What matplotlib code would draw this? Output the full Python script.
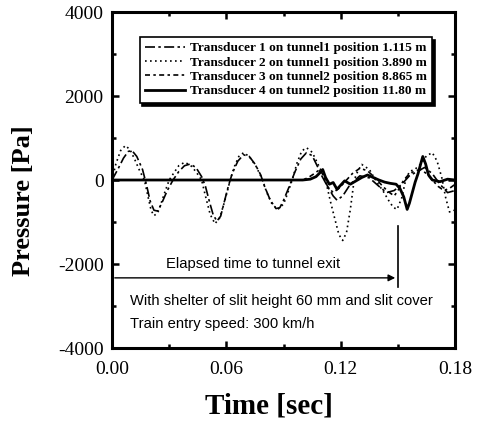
import matplotlib.pyplot as plt
from matplotlib.ticker import MultipleLocator

# transducer 1 (tunnel1, 1.115 m)
t1 = [0, 0.003, 0.006, 0.0085, 0.0105, 0.013, 0.016, 0.018, 0.020, 0.022, 0.024, 0.026,
      0.029, 0.032, 0.035, 0.038, 0.041, 0.044, 0.047, 0.049, 0.051, 0.053, 0.055, 0.057,
      0.059, 0.061, 0.063, 0.066, 0.069, 0.072, 0.075, 0.078, 0.080, 0.083, 0.086, 0.088,
      0.090, 0.093, 0.096, 0.099, 0.102, 0.105, 0.108, 0.110, 0.113, 0.116, 0.118, 0.121,
      0.125, 0.130, 0.135, 0.140, 0.144, 0.148, 0.152, 0.156, 0.160, 0.164, 0.168, 0.172,
      0.176, 0.180]
p1 = [0, 250, 520, 680, 700, 560, 250, -100, -500, -720, -740, -560,
      -250, 0, 200, 340, 380, 300, 80, -150, -500, -820, -980, -860,
      -500, -150, 150, 450, 600, 560, 380, 120, -150, -480, -680, -660,
      -480, -150, 200, 500, 650, 580, 300, 100, -150, -380, -480, -380,
      -100, 100, 50, -150, -300, -250, -100, 100, 200, 300, 150, -100,
      -300, -250]

# transducer 2 (tunnel1, 3.890 m)
t2 = [0, 0.002, 0.0045, 0.007, 0.0095, 0.012, 0.0145, 0.017, 0.019, 0.0205, 0.022, 0.024,
      0.026, 0.028, 0.030, 0.032, 0.035, 0.038, 0.041, 0.044, 0.047, 0.049, 0.0515, 0.054,
      0.0565, 0.059, 0.062, 0.064, 0.0665, 0.069, 0.072, 0.0755, 0.079, 0.081, 0.084, 0.087,
      0.090, 0.092, 0.0945, 0.097, 0.0995, 0.102, 0.105, 0.108, 0.112, 0.1145, 0.117, 0.119,
      0.121, 0.123, 0.125, 0.127, 0.129, 0.131, 0.135, 0.139, 0.142, 0.145, 0.1475, 0.1495,
      0.152, 0.154, 0.156, 0.159, 0.162, 0.165, 0.168, 0.1705, 0.173, 0.175, 0.177, 0.179,
      0.180]
p2 = [0, 380, 700, 820, 720, 480, 220, 0, -420, -720, -850, -780,
      -520, -250, 0, 140, 340, 420, 360, 200, 0, -380, -820, -1040,
      -900, -520, 0, 300, 560, 650, 560, 330, 0, -280, -580, -700,
      -570, -330, 0, 400, 690, 770, 660, 380, 0, -500, -950, -1300,
      -1440, -1250, -700, 0, 220, 370, 250, -60, -250, -480, -650, -700,
      -420, 0, 200, 260, 380, 580, 650, 450, 50, -420, -760, -740,
      -700]

# transducer 3 (tunnel2, 8.865 m)
t3 = [0, 0.100, 0.103, 0.106, 0.109, 0.111, 0.113, 0.116, 0.119, 0.122, 0.126, 0.130,
      0.134, 0.138, 0.142, 0.145, 0.148, 0.150, 0.153, 0.156, 0.159, 0.162, 0.165, 0.168,
      0.171, 0.174, 0.177, 0.180]
p3 = [0, 0, 60, 150, 250, 100, -150, -300, -200, -50, 150, 280,
      220, 50, -150, -280, -380, -250, 0, 150, 220, 250, 150, 0,
      -150, -250, -200, -100]

# transducer 4 (tunnel2, 11.80 m)
t4 = [0, 0.100, 0.104, 0.107, 0.109, 0.1105, 0.112, 0.114, 0.116, 0.118, 0.120, 0.122,
      0.125, 0.128, 0.131, 0.134, 0.137, 0.140, 0.143, 0.146, 0.149, 0.151, 0.153, 0.1548,
      0.156, 0.1575, 0.159, 0.1605, 0.162, 0.163, 0.1645, 0.166, 0.168, 0.172, 0.176, 0.180]
p4 = [0, 0, 20, 80, 170, 250, 60, -100, -60, -220, -120, -20,
      -100, -20, 60, 120, 60, 0, -50, -80, -100, -200, -400, -700,
      -550, -300, -50, 150, 400, 560, 380, 120, 0, -40, 20, 0]

labels = ["Transducer 1 on tunnel1 position 1.115 m",
          "Transducer 2 on tunnel1 position 3.890 m",
          "Transducer 3 on tunnel2 position 8.865 m",
          "Transducer 4 on tunnel2 position 11.80 m"]

t_exit = 0.150
arrow_p = -2330

plt.rcParams['font.family'] = 'Liberation Serif'
plt.rcParams['axes.unicode_minus'] = False

fig = plt.figure(figsize=(4.82, 4.29), dpi=100)
ax = fig.add_axes([0.2324, 0.1888, 0.712, 0.7832])

ax.plot(t1, p1, color='black', lw=1.2, ls=(0, (6, 2, 1.5, 2)), label=labels[0])
ax.plot(t2, p2, color='black', lw=1.2, ls=(0, (1, 2)), label=labels[1])
ax.plot(t3, p3, color='black', lw=1.2, ls=(0, (3, 2, 1.5, 2)), label=labels[2])
ax.plot(t4, p4, color='black', lw=2.0, ls='-', label=labels[3])

ax.set_xlim(0, 0.18)
ax.set_ylim(-4000, 4000)
ax.xaxis.set_major_locator(MultipleLocator(0.06))
ax.xaxis.set_minor_locator(MultipleLocator(0.03))
ax.yaxis.set_major_locator(MultipleLocator(2000))
ax.yaxis.set_minor_locator(MultipleLocator(1000))
ax.xaxis.set_major_formatter(plt.FuncFormatter(lambda v, pos: f"{v:.2f}"))
ax.tick_params(which='both', direction='in', top=True, right=True, width=1.8, labelsize=14)
ax.tick_params(which='major', length=5)
ax.tick_params(which='minor', length=3)
ax.tick_params(axis='x', pad=9)
ax.tick_params(axis='y', pad=6)
for s in ax.spines.values():
    s.set_linewidth(2.2)

ax.set_xlabel("Time [sec]", fontsize=21, fontweight='bold')
ax.set_ylabel("Pressure [Pa]", fontsize=19, fontweight='bold')
ax.xaxis.set_label_coords(0.458, -0.132)
ax.yaxis.set_label_coords(-0.225, 0.4375)

leg = ax.legend(loc='upper left', bbox_to_anchor=(0.061, 0.946), frameon=True, fancybox=False,
                shadow={'color': 'black', 'alpha': 1}, edgecolor='black',
                handlelength=3.0, handletextpad=0.4,
                labelspacing=0.15, borderpad=0.4,
                prop={'family': 'Liberation Serif', 'weight': 'bold', 'size': 9.6})
leg.get_frame().set_linewidth(1.2)

ax.annotate("", xy=(t_exit, arrow_p), xytext=(0, arrow_p),
            arrowprops=dict(arrowstyle='-|>', color='black', lw=1.0, mutation_scale=10))
ax.plot([t_exit, t_exit], [-1100, -2550], color='black', lw=1.2)
ax.text(0.074, -2000, "Elapsed time to tunnel exit", ha='center', va='center',
        fontsize=10.6, family='Liberation Sans')
ax.text(0.0095, -2880, "With shelter of slit height 60 mm and slit cover", ha='left', va='center',
        fontsize=10.6, family='Liberation Sans')
ax.text(0.0095, -3430, "Train entry speed: 300 km/h", ha='left', va='center',
        fontsize=10.6, family='Liberation Sans')

fig.savefig("out.png", dpi=100)
